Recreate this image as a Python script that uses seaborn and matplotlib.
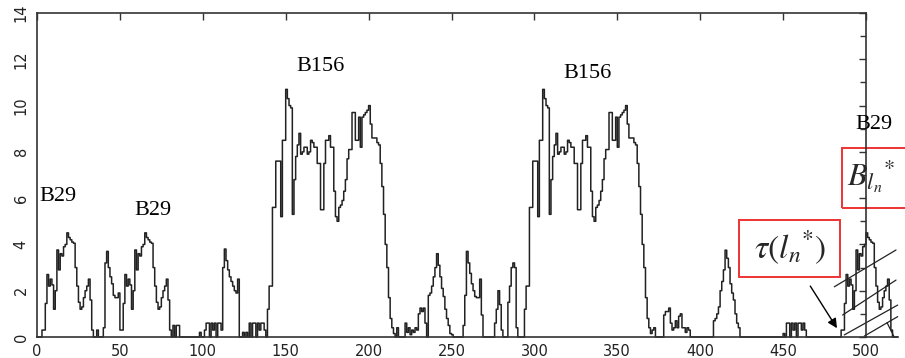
import numpy as np
import pandas as pd
import matplotlib
matplotlib.use("Agg")
import matplotlib.pyplot as plt
from matplotlib.patches import Rectangle
from matplotlib.ticker import MultipleLocator
import seaborn as sns

# ---------------- data ----------------
lead_in = [0, 0, 0]
b29 = [0.3, 0.3, 1.45, 2.7, 2.2, 2.5, 2.25, 1.2, 2.0, 3.76, 2.9, 3.6, 3.5, 3.9,
       4.0, 4.5, 4.3, 4.2, 4.1, 4.05, 3.0, 2.2, 1.5, 1.2, 1.3, 1.7, 2.0, 2.2,
       2.5, 1.6, 0.3]
gap_a = [0, 0, 0.3, 0, 0, 0, 0.4, 3.2, 3.7, 3.0, 2.6, 2.3, 1.8, 1.7, 1.7, 1.9]
gap_b = [0,
         0.5, 0, 0.5, 0.5, 0,
         0, 0, 0, 0, 0, 0, 0, 0, 0, 0, 0,
         0.2,
         0, 0,
         0.3, 0.6, 0.6, 0, 0.6, 0.3, 0.6, 0, 0.6, 0.6, 0.3,
         3.0, 3.8, 3.3, 2.9, 2.6, 2.4, 2.2, 2.0, 1.9, 2.5,
         0, 0, 0.2, 0, 0.2, 0,
         0.6, 0, 0.6, 0.6, 0, 0.6, 0.3, 0.6, 0.6, 0.3,
         0]
b156 = [1.2, 2.2, 2.2, 5.6, 5.6, 7.6, 7.6, 7.6, 5.2, 8.5, 8.5, 10.7, 10.3, 10.0,
        9.9, 5.3, 6.8, 7.8, 8.3, 8.8, 7.9, 8.0, 8.2, 8.2, 7.9, 8.0, 8.5, 8.4,
        8.2, 8.2, 7.5, 7.5, 5.5, 5.5, 7.5, 8.5, 8.5, 8.7, 8.2, 8.2, 6.3, 5.2,
        5.0, 5.6, 5.7, 5.9, 6.3, 6.8, 7.7, 8.1, 8.1, 9.7, 9.7, 8.5, 8.5, 9.5,
        8.2, 9.5, 9.6, 9.7, 9.8, 10.0, 9.2, 8.6, 8.6, 8.6, 8.4, 8.3, 7.5, 6.5,
        5.3, 4.0, 3.0, 1.7, 0.8, 0.4, 0.15]
gap_c = [0, 0.4, 0, 0, 0, 0, 0.6, 0.2, 0.4, 0.1, 0.3, 0.2, 0.4, 0.3, 1.0, 1.25,
         1.1, 1.25, 0.6, 0, 1.8, 1.9, 2.2, 2.6, 3.0, 3.6, 3.1, 2.6, 2.1, 1.75,
         1.2, 0.8, 0.5, 0.15, 0.1,
         0, 0, 0, 0, 0, 0,
         0.5, 1.8, 3.7, 3.2, 2.75, 2.3, 2.0, 1.75, 1.7, 1.7, 2.5, 0.95,
         0, 0, 0, 0, 0, 0, 0,
         0.6, 1.2, 2.0, 1.4, 0.3,
         0, 0, 0,
         1.5, 2.2, 3.0, 3.2, 3.0, 0.4,
         0, 0, 0, 0]
gap_d = [0.3, 0.4,
         0, 0, 0, 0, 0,
         0.95, 1.1, 1.1, 1.25, 0.6, 0.3, 0.4, 0.7, 0.4, 0.9, 1.0, 0.4, 0.4, 0.2,
         0.4, 0.3,
         0, 0, 0, 0, 0, 0, 0, 0, 0, 0, 0, 0, 0, 0,
         0.7, 0.8, 1.0, 1.3, 2.0, 2.4, 2.9, 3.75, 3.4, 3.0, 2.3, 1.9, 1.6, 1.0,
         0.6, 0.4,
         0, 0, 0, 0, 0, 0, 0, 0, 0, 0, 0, 0, 0, 0, 0, 0, 0, 0, 0, 0, 0, 0, 0,
         0, 0, 0,
         0.15, 0, 0.6, 0.6, 0, 0.6, 0.3, 0.6, 0, 0.6, 0.6, 0.3, 0.6, 0.3,
         0, 0, 0, 0, 0, 0, 0, 0, 0, 0, 0, 0, 0, 0, 0, 0, 0, 0, 0, 0, 0]
tail = [0, 0, 0, 0]

signal = (lead_in + b29 + gap_a + b29 + gap_b + b156 + gap_c + b156 + gap_d
          + b29 + tail)
position = np.arange(len(signal))

x_ticks = [0, 50, 100, 150, 200, 250, 300, 350, 400, 450, 500]
y_ticks = [0, 2, 4, 6, 8, 10, 12, 14]
peak_labels = ["B29", "B29", "B156", "B156", "B29"]

df = pd.DataFrame({"l": position, "value": signal})

# ---------------- figure ----------------
sns.set_style("white")
plt.rcParams["font.family"] = ["DejaVu Sans"]
plt.rcParams["mathtext.fontset"] = "stix"

fig = plt.figure(figsize=(9.05, 3.58), dpi=100)
ax = fig.add_axes([37 / 905, 21 / 358, 829 / 905, 324 / 358])

sns.lineplot(data=df, x="l", y="value", ax=ax, estimator=None,
             drawstyle="steps-post", color="#222222", linewidth=1.1,
             clip_on=False)

ax.set_xlim(0, 500)
ax.set_ylim(0, 14)
ax.set_xlabel("")
ax.set_ylabel("")
ax.set_xticks(x_ticks)
ax.set_yticks(y_ticks)
ax.yaxis.set_minor_locator(MultipleLocator(1))

for s in ax.spines.values():
    s.set_color("#333333")
    s.set_linewidth(1.2)
ax.spines["bottom"].set_bounds(0, 519)

ax.tick_params(which="both", direction="in", top=True, right=True,
               color="#333333", width=1.0)
ax.tick_params(which="major", length=5)
ax.tick_params(which="minor", length=4)
ax.tick_params(axis="x", labelsize=10.5, pad=5, labelcolor="#222222")
ax.tick_params(axis="y", labelsize=10.5, pad=6, labelrotation=90,
               labelcolor="#222222")
for lab in ax.get_yticklabels():
    lab.set_va("center")

# peak labels
serif = "Liberation Serif"
label_xy = [(12.7, 6.07), (69.7, 5.47), (171.2, 11.68), (331.8, 11.4),
            (504.8, 9.18)]
for txt, (lx, ly) in zip(peak_labels, label_xy):
    ax.text(lx, ly, txt, family=serif, fontsize=16, ha="center",
            va="center", color="black", clip_on=False)

# red annotation boxes
ax.add_patch(Rectangle((423.5, 2.6), 61.0, 2.46, facecolor="none",
                       edgecolor="#ee3333", linewidth=1.4, clip_on=False))
ax.text(454.0, 3.85, r"$\tau(l_n{}^{*})$", fontsize=24, ha="center",
        va="center", clip_on=False)
ax.add_patch(Rectangle((485.3, 5.56), 45.0, 2.62, facecolor="none",
                       edgecolor="#ee3333", linewidth=1.4, clip_on=False))
ax.text(488.5, 6.95, r"$B_{l_n}{}^{*}$", fontsize=23, ha="left",
        va="center", clip_on=False)

# arrow
ax.annotate("", xy=(482.5, 0.38), xytext=(466.4, 2.2),
            arrowprops=dict(arrowstyle="-|>", color="black", lw=1.0,
                            mutation_scale=14, shrinkA=0, shrinkB=0))

# hatch lines over the last block
hatch_lines = [((480.9, 2.17), (518.1, 3.76)),
               ((485.9, 0.95), (518.1, 2.46)),
               ((486.9, 0.09), (519.1, 1.38)),
               ((499.0, 0.04), (519.1, 0.88)),
               ((512.7, 0.62), (516.7, 0.04))]
for (x0, y0), (x1, y1) in hatch_lines:
    ax.plot([x0, x1], [y0, y1], color="#222222", lw=0.9, clip_on=False)

fig.savefig("out.png", dpi=100)
